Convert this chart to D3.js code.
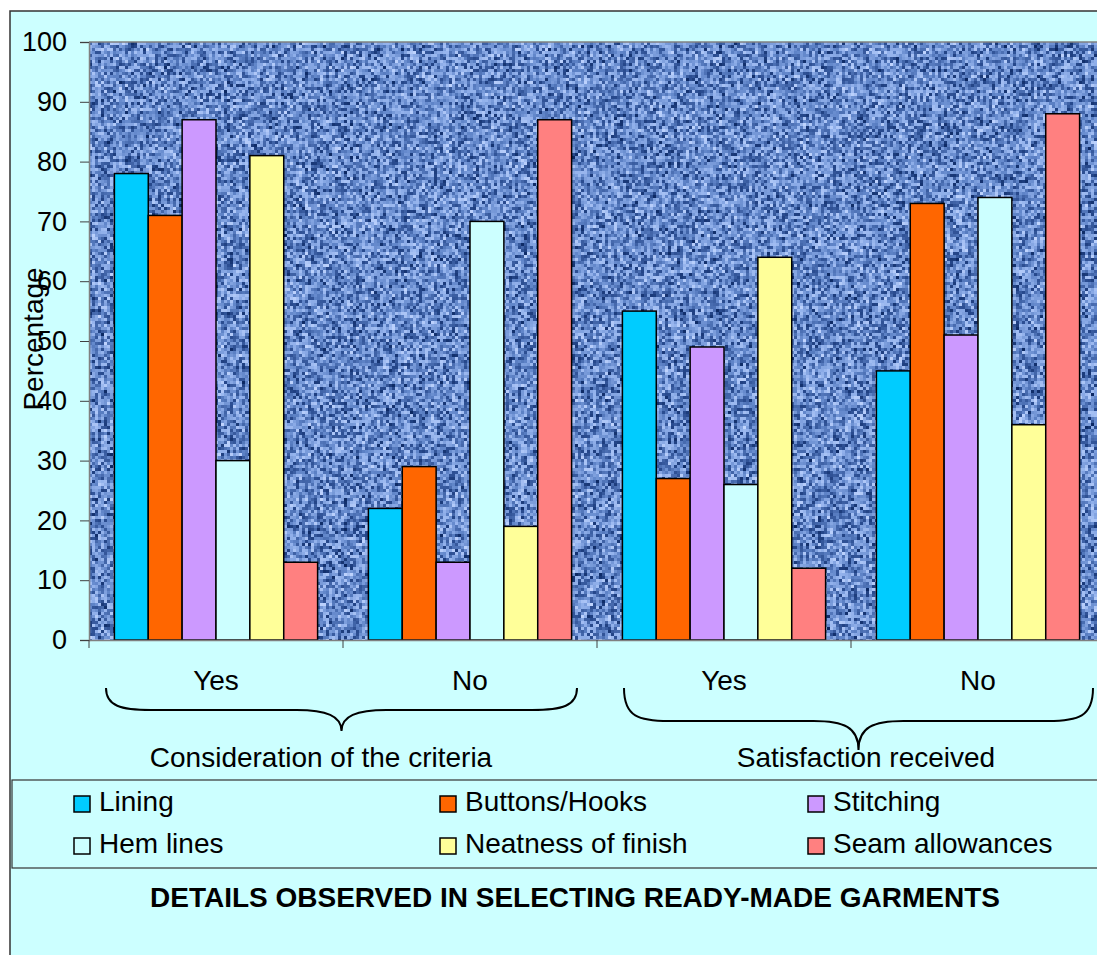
<!DOCTYPE html>
<html>
<head>
<meta charset="utf-8">
<script src="https://cdn.jsdelivr.net/npm/d3@7"></script>
<style>
  html, body { margin: 0; padding: 0; background: #ffffff; }
  svg { display: block; }
  text { font-family: "Liberation Sans", Arial, sans-serif; fill: #000; }
</style>
</head>
<body>
<svg id="chart" width="1097" height="955"></svg>
<script>
// ---- data ----
const groups = ["Consideration of the criteria", "Satisfaction received"];
const answers = ["Yes", "No"];
const categories = ["Consideration|Yes", "Consideration|No", "Satisfaction|Yes", "Satisfaction|No"];
const series = ["Lining", "Buttons/Hooks", "Stitching", "Hem lines", "Neatness of finish", "Seam allowances"];
const lining       = [78, 22, 55, 45];
const buttonsHooks = [71, 29, 27, 73];
const stitching    = [87, 13, 49, 51];
const hemLines     = [30, 70, 26, 74];
const neatness     = [81, 19, 64, 36];
const seamAllow    = [13, 87, 12, 88];
const yTicks = [0, 10, 20, 30, 40, 50, 60, 70, 80, 90, 100];
const colors = ["#00CCFF", "#FF6600", "#CC99FF", "#CCFFFF", "#FFFF99", "#FF8080"];

const values = [lining, buttonsHooks, stitching, hemLines, neatness, seamAllow];
const table = categories.map((c, i) => {
  const row = { category: c };
  series.forEach((s, k) => row[s] = values[k][i]);
  return row;
});

// ---- layout ----
const W = 1097, H = 955;
const plot = { left: 89, right: 1105, top: 42, bottom: 640 };
const FONT = 28;

const svg = d3.select("#chart");

// chart area background with frame
svg.append("rect").attr("x", 10).attr("y", 11).attr("width", W + 20).attr("height", H + 20)
  .attr("fill", "#CCFFFF").attr("stroke", "#333").attr("stroke-width", 1.5);

// scales
const x0 = d3.scaleBand().domain(categories).range([plot.left, plot.right]).padding(0);
const x1 = d3.scaleBand().domain(series).range([0, x0.bandwidth()]).paddingInner(0).paddingOuter(0.75);
const y = d3.scaleLinear().domain([0, 100]).range([plot.bottom, plot.top]);

// textured plot background (blue pixel noise)
function hash(i, j) {
  let n = Math.imul(i, 374761393) + Math.imul(j, 668265263);
  n = Math.imul(n ^ (n >>> 13), 1274126177);
  n = n ^ (n >>> 16);
  return (n >>> 0) / 4294967296;
}
const cell = 3;
const pw = plot.right - plot.left, ph = plot.bottom - plot.top;
const cv = document.createElement("canvas");
cv.width = pw; cv.height = ph;
const ctx = cv.getContext("2d");
const shade = d3.scaleLinear()
  .domain([0, 0.18, 0.45, 0.75, 1])
  .range(["#0a2660", "#284a8e", "#5f84c8", "#93b2ec", "#c2d6ff"])
  .interpolate(d3.interpolateRgb);
for (let i = 0; i < Math.ceil(pw / cell); i++) {
  for (let j = 0; j < Math.ceil(ph / cell); j++) {
    const r = 0.75 * hash(i + 17, j + 91) + 0.25 * hash(i * 3 + 5, j * 7 + 2);
    ctx.fillStyle = shade(r);
    ctx.fillRect(i * cell, j * cell, cell, cell);
  }
}
svg.append("image").attr("x", plot.left).attr("y", plot.top)
  .attr("width", pw).attr("height", ph)
  .attr("preserveAspectRatio", "none")
  .style("image-rendering", "pixelated")
  .attr("href", cv.toDataURL());
svg.append("line").attr("x1", plot.left).attr("x2", plot.right)
  .attr("y1", plot.top).attr("y2", plot.top)
  .attr("stroke", "#808080").attr("stroke-width", 1.5);

// bars
const gBars = svg.append("g");
gBars.selectAll("g").data(table).join("g")
  .attr("transform", d => `translate(${x0(d.category)},0)`)
  .selectAll("rect")
  .data(d => series.map((s, k) => ({ s, k, v: d[s] })))
  .join("rect")
  .attr("x", d => x1(d.s))
  .attr("y", d => y(d.v))
  .attr("width", x1.bandwidth())
  .attr("height", d => y(0) - y(d.v))
  .attr("fill", d => colors[d.k])
  .attr("stroke", "#000")
  .attr("stroke-width", 1.5);

// y axis
const yAxis = d3.axisLeft(y).tickValues(yTicks).tickSize(9).tickPadding(13).tickFormat(d3.format("d"));
const gy = svg.append("g").attr("transform", `translate(${plot.left},0)`).call(yAxis);
gy.select(".domain").attr("stroke", "#808080").attr("stroke-width", 1.5);
gy.selectAll(".tick line").attr("stroke", "#404040");
gy.selectAll(".tick text").style("font-size", "27px").style("font-family", "Liberation Sans, Arial, sans-serif").attr("fill", "#000");

// x axis (category boundaries)
const xAxis = d3.axisBottom(x0).tickSize(0).tickFormat("");
const gx = svg.append("g").attr("transform", `translate(0,${plot.bottom})`).call(xAxis);
gx.select(".domain").attr("stroke", "#808080").attr("stroke-width", 1.5);
const bounds = categories.map(c => x0(c));
gx.selectAll(".bound").data(bounds).join("line")
  .attr("x1", d => d).attr("x2", d => d).attr("y1", 0).attr("y2", 8)
  .attr("stroke", "#404040");

// answer labels
svg.append("g").selectAll("text").data(categories).join("text")
  .attr("x", d => x0(d) + x0.bandwidth() / 2)
  .attr("y", 690)
  .attr("text-anchor", "middle")
  .style("font-size", FONT + "px")
  .text(d => answers[categories.indexOf(d) % 2]);

// braces grouping the answers
function brace(xa, xb, yEnd, yFlat, yTip) {
  const xm = (xa + xb) / 2;
  const r = 45;
  return `M${xa},${yEnd} C${xa},${yFlat - 4} ${xa + 15},${yFlat} ${xa + r},${yFlat}` +
         ` L${xm - r},${yFlat} C${xm - 15},${yFlat} ${xm},${yFlat + 6} ${xm},${yTip}` +
         ` C${xm},${yFlat + 6} ${xm + 15},${yFlat} ${xm + r},${yFlat}` +
         ` L${xb - r},${yFlat} C${xb - 15},${yFlat} ${xb},${yFlat - 4} ${xb},${yEnd}`;
}
const braceSpecs = [
  { xa: 106, xb: 577, yFlat: 710, yTip: 731, lx: 321 },
  { xa: 624, xb: 1093, yFlat: 721, yTip: 750, lx: 866 }
];
svg.append("g").selectAll("path").data(braceSpecs).join("path")
  .attr("d", d => brace(d.xa, d.xb, 688, d.yFlat, d.yTip))
  .attr("fill", "none").attr("stroke", "#000").attr("stroke-width", 2);

svg.append("g").selectAll("text").data(groups).join("text")
  .attr("x", (d, i) => braceSpecs[i].lx)
  .attr("y", 767)
  .attr("text-anchor", "middle")
  .style("font-size", FONT + "px")
  .text(d => d);

// y axis title
svg.append("text")
  .attr("transform", "translate(43,339) rotate(-90)")
  .attr("text-anchor", "middle")
  .style("font-size", FONT + "px")
  .text("Percentage");

// legend
svg.append("rect").attr("x", 12).attr("y", 780).attr("width", W).attr("height", 88)
  .attr("fill", "#CCFFFF").attr("stroke", "#333").attr("stroke-width", 1.2);
const legX = [74, 440, 808];
const legY = [796, 838];
const leg = svg.append("g").selectAll("g").data(series).join("g")
  .attr("transform", (d, i) => `translate(${legX[i % 3]},${legY[Math.floor(i / 3)]})`);
leg.append("rect").attr("width", 16).attr("height", 16)
  .attr("fill", (d, i) => colors[i]).attr("stroke", "#000").attr("stroke-width", 1.5);
leg.append("text").attr("x", 25).attr("y", 15)
  .style("font-size", FONT + "px")
  .text(d => d);

// chart title
svg.append("text")
  .attr("x", 575).attr("y", 907)
  .attr("text-anchor", "middle")
  .style("font-size", "28px").style("font-weight", "bold")
  .text("DETAILS OBSERVED IN SELECTING READY-MADE GARMENTS");
</script>
</body>
</html>
